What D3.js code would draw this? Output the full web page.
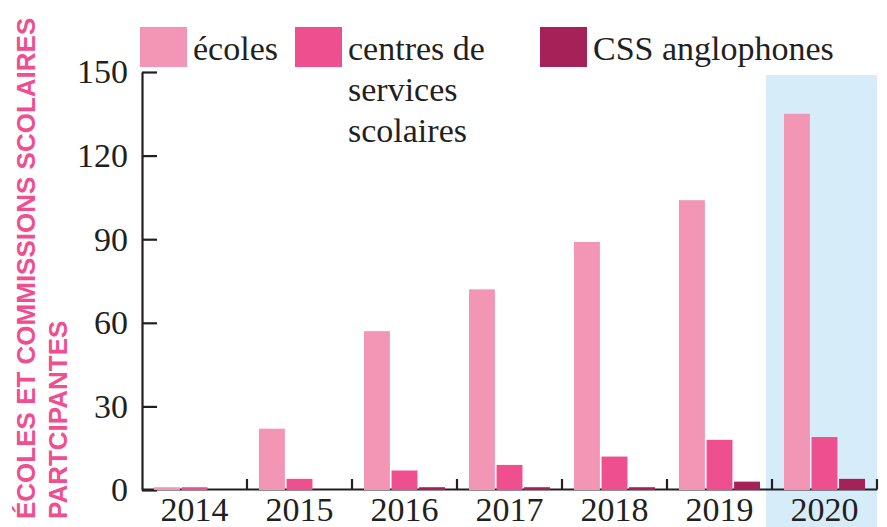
<!DOCTYPE html>
<html>
<head>
<meta charset="utf-8">
<script src="https://cdn.jsdelivr.net/npm/d3@7"></script>
<style>
  html, body { margin: 0; padding: 0; background: #fff; }
  svg { display: block; }
</style>
</head>
<body>
<div id="root"></div>
<script>
const years = ["2014", "2015", "2016", "2017", "2018", "2019", "2020"];
const ecoles = [1, 22, 57, 72, 89, 104, 135];
const centres = [1, 4, 7, 9, 12, 18, 19];
const cssAnglophones = [0, 0, 1, 1, 1, 3, 4];
const seriesKeys = ["ecoles", "centres", "css"];
const seriesLabels = [["écoles"], ["centres de", "services", "scolaires"], ["CSS anglophones"]];
const yTicks = [0, 30, 60, 90, 120, 150];
const highlightYear = "2020";
const titleLines = ["ÉCOLES ET COMMISSIONS SCOLAIRES", "PARTCIPANTES"];

const width = 887;
const height = 527;
const ink = "#231f20";
const serif = "'Liberation Serif', 'Times New Roman', serif";

const colorScale = d3.scaleOrdinal()
  .domain(seriesKeys)
  .range(["#f395b5", "#ee4f8f", "#a52158"]);

const rows = years.map((year, i) => ({
  year,
  values: [
    { key: "ecoles", value: ecoles[i] },
    { key: "centres", value: centres[i] },
    { key: "css", value: cssAnglophones[i] }
  ]
}));

const svg = d3.select("#root")
  .append("svg")
    .attr("width", width)
    .attr("height", height);

const xScale = d3.scaleBand()
  .domain(years)
  .range([142, 877])
  .padding(0);

const xInner = d3.scaleBand()
  .domain(seriesKeys)
  .range([12, 93])
  .paddingInner(0.06);

const yScale = d3.scaleLinear()
  .domain([0, 150])
  .range([490, 72]);

// highlighted year background
svg.append("rect")
  .attr("x", xScale(highlightYear) - 6)
  .attr("y", 75)
  .attr("width", xScale.bandwidth() + 6)
  .attr("height", height - 75)
  .attr("fill", "#d6ecf8");

// axes
const yAxis = svg.append("g")
  .attr("transform", "translate(142, 0)")
  .call(d3.axisLeft(yScale).tickValues(yTicks).tickSizeInner(-15).tickSizeOuter(0).tickPadding(14));
yAxis.select(".domain").attr("stroke", ink).attr("stroke-width", 2.2);
yAxis.selectAll(".tick line").attr("stroke", ink).attr("stroke-width", 2.2);
yAxis.selectAll(".tick text")
  .attr("fill", ink)
  .style("font-family", serif)
  .style("font-size", "34px");

const xAxis = svg.append("g")
  .attr("transform", "translate(0, 489)")
  .call(d3.axisBottom(xScale).tickSize(0).tickPadding(8));
xAxis.select(".domain").attr("stroke", ink).attr("stroke-width", 2.2);
xAxis.selectAll(".tick text")
  .attr("fill", ink)
  .style("font-family", serif)
  .style("font-size", "34px");

// boundary ticks between years
xAxis.selectAll(".sep")
  .data(years)
  .enter()
  .append("line")
    .attr("class", "sep")
    .attr("x1", d => xScale(d) + xScale.bandwidth())
    .attr("x2", d => xScale(d) + xScale.bandwidth())
    .attr("y1", 0)
    .attr("y2", -10)
    .attr("stroke", ink)
    .attr("stroke-width", 2.2);

// bars
const groups = svg.append("g")
  .selectAll("g")
  .data(rows)
  .enter()
  .append("g")
    .attr("transform", d => `translate(${xScale(d.year)}, 0)`);

groups.selectAll("rect")
  .data(d => d.values.filter(v => v.value > 0))
  .enter()
  .append("rect")
    .attr("x", d => xInner(d.key))
    .attr("y", d => yScale(d.value))
    .attr("width", xInner.bandwidth())
    .attr("height", d => yScale(0) - yScale(d.value))
    .attr("fill", d => colorScale(d.key));

// legend
const legendX = [140, 295, 540];
const legend = svg.append("g")
  .selectAll("g")
  .data(seriesKeys)
  .enter()
  .append("g")
    .attr("transform", (d, i) => `translate(${legendX[i]}, 27)`);

legend.append("rect")
  .attr("width", 47)
  .attr("height", 40)
  .attr("fill", d => colorScale(d));

legend.append("text")
  .attr("x", 53)
  .attr("y", 33)
  .attr("fill", ink)
  .style("font-family", serif)
  .style("font-size", "34px")
  .selectAll("tspan")
  .data((d, i) => seriesLabels[i])
  .enter()
  .append("tspan")
    .attr("x", 53)
    .attr("dy", (d, i) => i === 0 ? 0 : 41)
    .text(d => d);

// y axis title
svg.append("text")
  .attr("transform", "translate(35, 519)rotate(-90)")
  .attr("text-anchor", "start")
  .attr("fill", "#ef4e8f")
  .style("font-family", "'Liberation Sans', Arial, sans-serif")
  .style("font-weight", "bold")
  .style("font-size", "26px")
  .selectAll("tspan")
  .data(titleLines)
  .enter()
  .append("tspan")
    .attr("x", 0)
    .attr("y", (d, i) => i * 32)
    .text(d => d);
</script>
</body>
</html>
